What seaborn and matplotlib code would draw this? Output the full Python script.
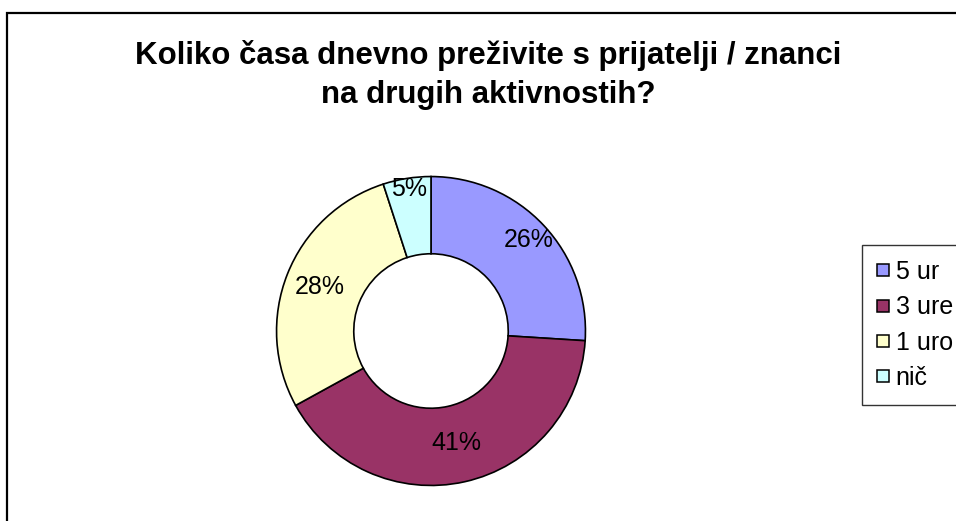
import matplotlib
matplotlib.use("Agg")
from matplotlib import pyplot as plt
from matplotlib.patches import Rectangle
from matplotlib.lines import Line2D
import seaborn as sns

sns.set_theme(style="white")
plt.rcParams['font.family'] = ['Liberation Sans', 'DejaVu Sans']
plt.rcParams['text.color'] = 'black'

# data
labels = ['5 ur', '3 ure', '1 uro', 'nič']
shares = [26, 41, 28, 5]
colors = ['#9999FF', '#993366', '#FFFFCC', '#CCFFFF']
title = 'Koliko časa dnevno preživite s prijatelji / znanci\nna drugih aktivnostih?'

W, H = 956, 521
fig = plt.figure(figsize=(W / 100, H / 100), dpi=100)
fig.patch.set_facecolor('white')

# chart frame (clipped at right and bottom)
fig.add_artist(Rectangle((7 / W, -0.1), 1.2, 1 - 12.5 / H + 0.1,
                         transform=fig.transFigure, fill=False,
                         edgecolor='black', lw=1.6))

# donut axes
cx, cy, r = 431, H - 331, 156
ax = fig.add_axes([(cx - r) / W, (cy - r) / H, 2 * r / W, 2 * r / H])
pal = sns.color_palette(colors)
wedges, texts, autotexts = ax.pie(
    shares, colors=pal, startangle=90, counterclock=False,
    autopct='%d%%', pctdistance=0.8, radius=1,
    wedgeprops=dict(width=0.5, edgecolor='black', linewidth=1.2),
    textprops=dict(fontsize=18, color='black'))
# nudge labels to where the original places them
for t, k in zip(autotexts, [1.08, 0.93, 0.97, 1.16]):
    x, y = t.get_position()
    t.set_position((x * k, y * k))
ax.set_xlim(-1.01, 1.01)
ax.set_ylim(-1.01, 1.01)
ax.set_aspect('auto')
ax.axis('off')

fig.text(488 / W, 1 - 75 / H, title, ha='center', va='center',
         fontsize=22.5, fontweight='bold', linespacing=1.4, color='black')

handles = [Line2D([], [], ls='', marker='s', markersize=8, markerfacecolor=c,
                  markeredgecolor='black', markeredgewidth=1.1) for c in colors]
leg = fig.legend(handles, labels, loc='upper left',
                 bbox_to_anchor=(862 / W, 1 - 245 / H),
                 frameon=True, fancybox=False, fontsize=18,
                 handlelength=0.45, handletextpad=0.3,
                 labelspacing=0.45, borderpad=0.6, borderaxespad=0)
leg.get_frame().set_edgecolor('black')
leg.get_frame().set_linewidth(1)

plt.savefig('out.png', dpi=100)
